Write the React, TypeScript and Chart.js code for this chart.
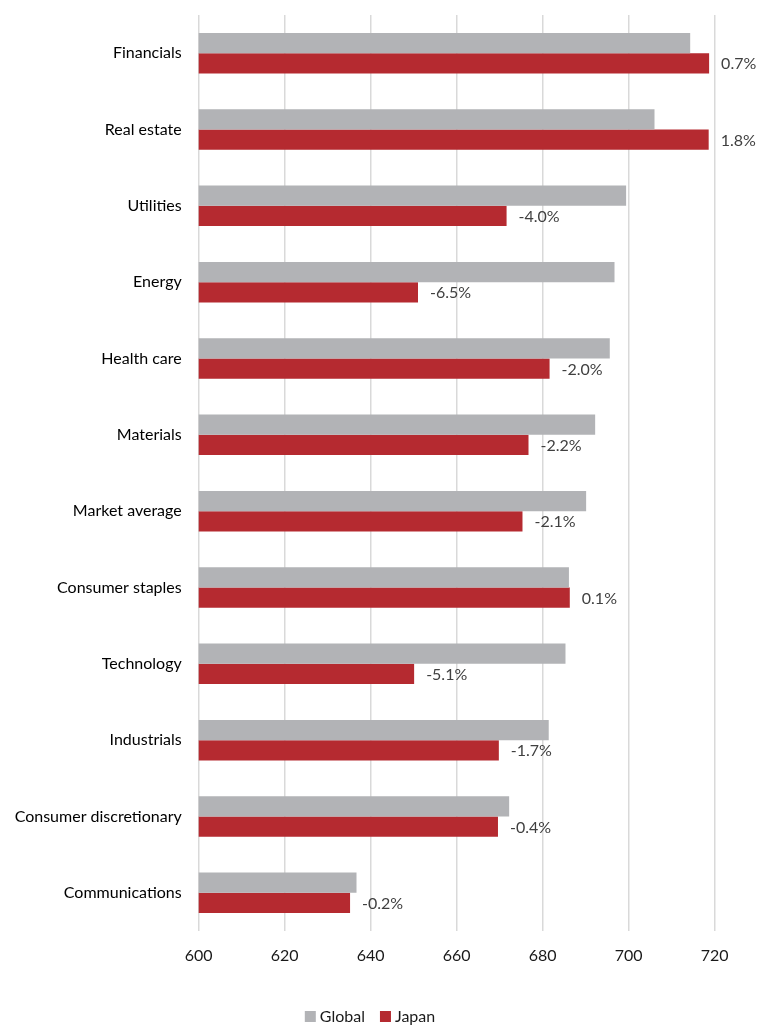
import React, { useEffect, useRef } from "react";
import { Chart, registerables } from "chart.js";

Chart.register(...registerables);

const categories = [
  "Financials",
  "Real estate",
  "Utilities",
  "Energy",
  "Health care",
  "Materials",
  "Market average",
  "Consumer staples",
  "Technology",
  "Industrials",
  "Consumer discretionary",
  "Communications",
];
const globalValues = [714.3, 706.0, 699.4, 696.7, 695.6, 692.2, 690.1, 686.1, 685.3, 681.4, 672.2, 636.7];
const japanValues = [718.7, 718.6, 671.6, 651.0, 681.6, 676.7, 675.3, 686.3, 650.1, 669.8, 669.6, 635.2];
const japanLabels = ["0.7%", "1.8%", "-4.0%", "-6.5%", "-2.0%", "-2.2%", "-2.1%", "0.1%", "-5.1%", "-1.7%", "-0.4%", "-0.2%"];
const seriesNames = ["Global", "Japan"];
const xMin = 600;
const xMax = 720;
const xStep = 20;

const GRAY = "#b2b3b6";
const RED = "#b52a30";
const FONT = "Lato";

const valueLabelPlugin = {
  id: "valueLabels",
  afterDatasetsDraw(chart: any) {
    const ctx = chart.ctx;
    const meta = chart.getDatasetMeta(1);
    ctx.save();
    ctx.font = `16px ${FONT}`;
    ctx.fillStyle = "#404040";
    ctx.textAlign = "left";
    ctx.textBaseline = "middle";
    meta.data.forEach((bar: any, i: number) => {
      ctx.fillText(japanLabels[i], bar.x + 12, bar.y + 1);
    });
    ctx.restore();
  },
};

const customLegendPlugin = {
  id: "customLegend",
  afterDraw(chart: any) {
    const ctx = chart.ctx;
    ctx.save();
    ctx.font = `16px ${FONT}`;
    ctx.textBaseline = "middle";
    ctx.textAlign = "left";
    const box = 11;
    const gapText = 4;
    const gapItem = 15;
    const items = chart.data.datasets.map((d: any) => ({
      label: d.label,
      color: d.backgroundColor,
      w: ctx.measureText(d.label).width,
    }));
    let total = 0;
    items.forEach((it: any, i: number) => {
      total += box + gapText + it.w + (i < items.length - 1 ? gapItem : 0);
    });
    let x = 370 - total / 2;
    const cy = 1016.5;
    items.forEach((it: any) => {
      ctx.fillStyle = it.color;
      ctx.fillRect(x, cy - box / 2, box, box);
      x += box + gapText;
      ctx.fillStyle = "#1a1a1a";
      ctx.fillText(it.label, x, cy);
      x += it.w + gapItem;
    });
    ctx.restore();
  },
};

export default function App() {
  const ref = useRef<HTMLCanvasElement | null>(null);

  useEffect(() => {
    document.body.style.margin = "0";
    if (!ref.current) return;
    Chart.defaults.font.family = FONT;
    const chart = new Chart(ref.current, {
      type: "bar",
      data: {
        labels: categories,
        datasets: [
          {
            label: seriesNames[0],
            data: globalValues,
            backgroundColor: GRAY,
            borderWidth: 0,
            barPercentage: 1,
            categoryPercentage: 0.53,
          },
          {
            label: seriesNames[1],
            data: japanValues,
            backgroundColor: RED,
            borderWidth: 0,
            barPercentage: 1,
            categoryPercentage: 0.53,
          },
        ],
      },
      options: {
        indexAxis: "y",
        responsive: false,
        animation: false,
        layout: { padding: { top: 15, right: 43.3, left: 0, bottom: 0 } },
        plugins: {
          legend: { display: false },
          tooltip: { enabled: false },
        },
        scales: {
          x: {
            type: "linear",
            min: xMin,
            max: xMax,
            ticks: {
              stepSize: xStep,
              padding: 15,
              color: "#1a1a1a",
              font: { size: 16, family: FONT },
            },
            grid: {
              color: "#d9d9d9",
              lineWidth: 1.5,
              drawTicks: false,
            },
            border: { display: false },
            afterFit(scale: any) {
              scale.height = 94;
            },
          },
          y: {
            ticks: {
              padding: 17,
              color: "#000000",
              font: { size: 16, family: FONT },
            },
            grid: { display: false, drawTicks: false },
            border: { display: false },
            afterFit(scale: any) {
              scale.width = 198.7;
              scale.paddingTop = 0;
              scale.paddingBottom = 0;
            },
          },
        },
      },
      plugins: [valueLabelPlugin, customLegendPlugin],
    });
    return () => chart.destroy();
  }, []);

  return (
    <div style={{ position: "absolute", left: 0, top: 0, width: 758, height: 1025 }}>
      <canvas ref={ref} width={758} height={1025} style={{ display: "block" }} />
    </div>
  );
}
